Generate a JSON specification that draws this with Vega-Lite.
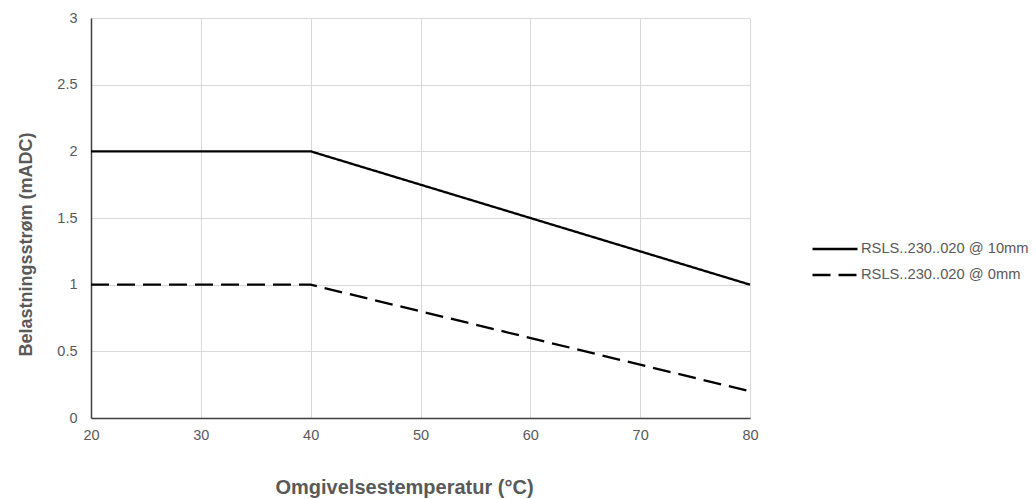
{
  "$schema": "https://vega.github.io/schema/vega-lite/v6.json",
  "width": 659,
  "height": 400,
  "autosize": {"type": "none"},
  "padding": {"left": 91, "top": 18, "right": 286, "bottom": 81},
  "background": "white",
  "config": {
    "view": {"stroke": null},
    "font": "Liberation Sans",
    "axis": {
      "labelFont": "Liberation Sans",
      "labelFontSize": 14.5,
      "labelColor": "#595959",
      "titleFont": "Liberation Sans",
      "titleFontWeight": "bold",
      "titleColor": "#595959",
      "gridColor": "#d9d9d9",
      "gridWidth": 1,
      "ticks": false,
      "domainColor": "#404040",
      "domainWidth": 1.5
    }
  },
  "data": {
    "values": [
      {"temp": 20, "current": 2, "series": "RSLS..230..020 @ 10mm"},
      {"temp": 40, "current": 2, "series": "RSLS..230..020 @ 10mm"},
      {"temp": 80, "current": 1, "series": "RSLS..230..020 @ 10mm"},
      {"temp": 20, "current": 1, "series": "RSLS..230..020 @ 0mm"},
      {"temp": 40, "current": 1, "series": "RSLS..230..020 @ 0mm"},
      {"temp": 80, "current": 0.2, "series": "RSLS..230..020 @ 0mm"}
    ]
  },
  "mark": {"type": "line", "color": "black", "strokeWidth": 2.3},
  "encoding": {
    "x": {
      "field": "temp",
      "type": "quantitative",
      "scale": {"domain": [20, 80], "nice": false},
      "axis": {
        "values": [20, 30, 40, 50, 60, 70, 80],
        "title": "Omgivelsestemperatur (°C)",
        "titleFontSize": 20,
        "labelFlush": false,
        "labelPadding": 10,
        "titleX": 313,
        "titleY": 69,
        "titleAlign": "center",
        "titleBaseline": "middle"
      }
    },
    "y": {
      "field": "current",
      "type": "quantitative",
      "scale": {"domain": [0, 3], "nice": false},
      "axis": {
        "values": [0, 0.5, 1, 1.5, 2, 2.5, 3],
        "format": "~g",
        "title": "Belastningsstrøm (mADC)",
        "titleFontSize": 18,
        "labelPadding": 14,
        "titleX": -65,
        "titleY": 226,
        "titleAlign": "center",
        "titleBaseline": "middle",
        "titleAngle": -90
      }
    },
    "strokeDash": {
      "field": "series",
      "type": "nominal",
      "scale": {
        "domain": ["RSLS..230..020 @ 10mm", "RSLS..230..020 @ 0mm"],
        "range": [[1, 0], [18, 8]]
      },
      "legend": {
        "title": null,
        "orient": "none",
        "legendX": 720,
        "legendY": 218,
        "symbolType": "stroke",
        "symbolSize": 2025,
        "symbolStrokeWidth": 2.3,
        "symbolStrokeColor": "black",
        "labelFont": "Liberation Sans",
        "labelFontSize": 14.7,
        "labelColor": "#595959",
        "labelOffset": 2,
        "labelLimit": 400,
        "clipHeight": 26,
        "rowPadding": 0
      }
    }
  }
}
